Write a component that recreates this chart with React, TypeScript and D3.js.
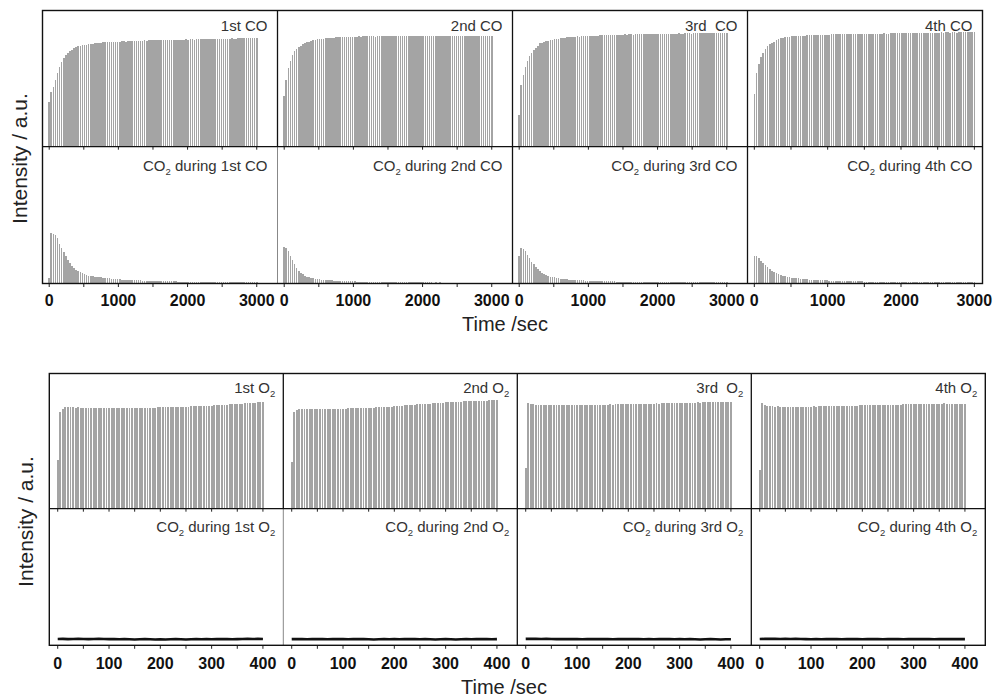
import React from 'react';
import * as d3 from 'd3';

// ---------- DATA ----------
const coStep = 30; // s between CO-phase samples
const o2Step = 5; // s between O2-phase samples
const co2O2Step = 10;

const coUpper1 = [
  0.33,0.40,0.44,0.49,0.54,0.585,0.62,0.65,0.67,0.688,
  0.70,0.712,0.722,0.732,0.737,0.741,0.744,0.746,0.748,0.752,
  0.755,0.757,0.76,0.762,0.764,0.763,0.766,0.768,0.767,0.768,
  0.77,0.769,0.771,0.772,0.77,0.773,0.774,0.772,0.775,0.776,
  0.777,0.775,0.778,0.777,0.779,0.778,0.78,0.779,0.781,0.78,
  0.782,0.781,0.783,0.782,0.784,0.783,0.785,0.784,0.786,0.785,
  0.784,0.786,0.787,0.786,0.785,0.787,0.788,0.787,0.789,0.788,
  0.787,0.789,0.79,0.789,0.788,0.79,0.791,0.79,0.792,0.791,
  0.79,0.792,0.793,0.792,0.791,0.793,0.794,0.793,0.795,0.794,
  0.793,0.795,0.796,0.795,0.797,0.796,0.795,0.797,0.798,0.797,
  0.797];
const coUpper2 = [
  0.37,0.49,0.575,0.63,0.675,0.70,0.718,0.73,0.742,0.752,
  0.76,0.767,0.772,0.778,0.782,0.785,0.788,0.79,0.792,0.794,
  0.796,0.797,0.799,0.8,0.801,0.802,0.803,0.804,0.805,0.804,
  0.806,0.807,0.806,0.808,0.809,0.808,0.81,0.809,0.81,0.811,
  0.81,0.811,0.812,0.81,0.809,0.811,0.812,0.811,0.813,0.812,
  0.81,0.812,0.813,0.811,0.812,0.814,0.813,0.811,0.812,0.813,
  0.812,0.81,0.811,0.813,0.812,0.811,0.813,0.814,0.812,0.811,
  0.813,0.812,0.81,0.812,0.813,0.811,0.812,0.814,0.813,0.812,
  0.811,0.813,0.812,0.814,0.815,0.813,0.812,0.814,0.815,0.816,
  0.814,0.813,0.815,0.816,0.814,0.815,0.816,0.815,0.814,0.815,
  0.814];
const coUpper3 = [
  0.233,0.45,0.53,0.585,0.63,0.665,0.69,0.71,0.725,0.74,
  0.76,0.765,0.77,0.775,0.779,0.783,0.787,0.79,0.792,0.794,
  0.797,0.799,0.801,0.803,0.804,0.806,0.807,0.808,0.81,0.809,
  0.811,0.812,0.811,0.813,0.814,0.813,0.815,0.816,0.815,0.817,
  0.818,0.817,0.819,0.82,0.819,0.821,0.82,0.822,0.821,0.823,
  0.822,0.824,0.823,0.825,0.824,0.823,0.825,0.826,0.825,0.827,
  0.826,0.825,0.827,0.828,0.827,0.826,0.828,0.829,0.828,0.827,
  0.829,0.83,0.829,0.828,0.83,0.831,0.83,0.832,0.831,0.83,
  0.832,0.833,0.832,0.831,0.833,0.834,0.833,0.835,0.834,0.833,
  0.835,0.836,0.835,0.834,0.836,0.837,0.836,0.838,0.837,0.836,
  0.838];
const coUpper4 = [
  0.39,0.54,0.61,0.655,0.69,0.72,0.742,0.755,0.765,0.772,
  0.785,0.79,0.795,0.8,0.803,0.806,0.809,0.811,0.812,0.813,
  0.814,0.815,0.816,0.815,0.817,0.818,0.817,0.819,0.818,0.82,
  0.821,0.82,0.822,0.823,0.822,0.824,0.825,0.824,0.826,0.825,
  0.826,0.827,0.826,0.828,0.827,0.826,0.828,0.829,0.828,0.827,
  0.829,0.83,0.829,0.828,0.83,0.831,0.83,0.829,0.831,0.832,
  0.831,0.83,0.832,0.833,0.832,0.834,0.833,0.832,0.834,0.835,
  0.834,0.833,0.835,0.836,0.835,0.834,0.836,0.837,0.836,0.835,
  0.837,0.838,0.837,0.836,0.838,0.839,0.838,0.84,0.839,0.838,
  0.84,0.839,0.838,0.84,0.841,0.84,0.839,0.841,0.842,0.84,
  0.84];

const co2DuringCo1 = [
  0.04,0.367,0.365,0.355,0.33,0.29,0.26,0.23,0.2,0.175,
  0.15,0.13,0.115,0.1,0.092,0.083,0.075,0.068,0.062,0.058,
  0.055,0.052,0.05,0.048,0.046,0.045,0.043,0.041,0.04,0.038,
  0.036,0.034,0.032,0.031,0.03,0.029,0.028,0.027,0.026,0.025,
  0.025,0.024,0.023,0.022,0.022,0.021,0.021,0.02,0.02,0.019,
  0.019,0.018,0.018,0.018,0.017,0.017,0.016,0.016,0.016,0.015,
  0.015,0.015,0.014,0.014,0.014,0.013,0.013,0.013,0.013,0.012,
  0.012,0.012,0.012,0.011,0.011,0.011,0.011,0.011,0.01,0.01,
  0.01,0.01,0.01,0.01,0.01,0.009,0.009,0.009,0.009,0.009,
  0.009,0.009,0.009,0.008,0.008,0.008,0.008,0.008,0.008,0.008,
  0.008];
const co2DuringCo2 = [
  0.265,0.26,0.235,0.2,0.17,0.14,0.115,0.095,0.08,0.068,
  0.058,0.05,0.045,0.041,0.038,0.035,0.032,0.03,0.028,0.026,
  0.025,0.024,0.023,0.022,0.021,0.02,0.019,0.019,0.018,0.017,
  0.017,0.016,0.016,0.015,0.015,0.014,0.014,0.014,0.013,0.013,
  0.013,0.012,0.012,0.012,0.012,0.011,0.011,0.011,0.011,0.01,
  0.01,0.011,0.01,0.01,0.01,0.009,0.01,0.009,0.009,0.009,
  0.009,0.009,0.008,0.009,0.008,0.008,0.009,0.008,0.008,0.008,
  0.008,0.008,0.007,0.008,0.007,0.008,0.007,0.007,0.007,0.007,
  0.007,0.007,0.007,0.006,0.007,0.007,0.006,0.007,0.006,0.006,
  0.006,0.006,0.007,0.006,0.006,0.006,0.006,0.006,0.006,0.006,
  0.006];
const co2DuringCo3 = [
  0.2,0.258,0.25,0.235,0.21,0.185,0.16,0.14,0.12,0.103,
  0.09,0.079,0.07,0.062,0.056,0.051,0.047,0.044,0.041,0.038,
  0.036,0.034,0.032,0.03,0.029,0.028,0.027,0.026,0.025,0.024,
  0.023,0.022,0.021,0.021,0.02,0.019,0.019,0.018,0.018,0.017,
  0.017,0.016,0.016,0.016,0.015,0.015,0.015,0.014,0.014,0.014,
  0.013,0.013,0.014,0.013,0.012,0.013,0.012,0.012,0.012,0.011,
  0.012,0.011,0.011,0.011,0.012,0.011,0.01,0.011,0.01,0.01,
  0.011,0.01,0.01,0.01,0.009,0.01,0.01,0.009,0.01,0.009,
  0.009,0.01,0.009,0.009,0.009,0.008,0.009,0.009,0.008,0.009,
  0.008,0.009,0.008,0.008,0.009,0.008,0.008,0.008,0.008,0.008,
  0.008];
const co2DuringCo4 = [
  0.2,0.198,0.185,0.167,0.15,0.133,0.118,0.105,0.094,0.083,
  0.074,0.067,0.061,0.056,0.052,0.048,0.045,0.043,0.041,0.039,
  0.037,0.035,0.033,0.032,0.03,0.029,0.028,0.027,0.026,0.025,
  0.024,0.023,0.022,0.022,0.021,0.02,0.02,0.019,0.019,0.018,
  0.018,0.017,0.017,0.017,0.016,0.016,0.016,0.015,0.015,0.015,
  0.014,0.014,0.014,0.014,0.013,0.013,0.013,0.013,0.012,0.012,
  0.012,0.012,0.012,0.011,0.011,0.011,0.011,0.011,0.011,0.01,
  0.01,0.01,0.011,0.01,0.01,0.01,0.009,0.01,0.01,0.009,
  0.009,0.009,0.01,0.009,0.009,0.009,0.009,0.008,0.009,0.009,
  0.008,0.009,0.008,0.008,0.008,0.009,0.008,0.008,0.008,0.008,
  0.008];

const o2Upper1 = [
  0.44,0.87,0.895,0.91,0.912,0.911,0.91,0.909,0.91,0.908,
  0.907,0.908,0.906,0.907,0.905,0.906,0.905,0.904,0.905,0.903,
  0.904,0.905,0.903,0.904,0.902,0.903,0.904,0.902,0.903,0.901,
  0.902,0.903,0.904,0.906,0.905,0.907,0.908,0.907,0.909,0.91,
  0.912,0.911,0.913,0.912,0.914,0.913,0.915,0.916,0.915,0.917,
  0.918,0.917,0.919,0.92,0.921,0.92,0.922,0.924,0.923,0.925,
  0.927,0.928,0.93,0.931,0.933,0.934,0.936,0.937,0.939,0.94,
  0.942,0.943,0.945,0.946,0.948,0.95,0.952,0.953,0.955,0.958,
  0.96];
const o2Upper2 = [
  0.42,0.87,0.89,0.894,0.895,0.894,0.896,0.895,0.897,0.896,
  0.897,0.896,0.898,0.897,0.896,0.898,0.899,0.898,0.897,0.899,
  0.9,0.899,0.901,0.902,0.901,0.903,0.904,0.903,0.905,0.906,
  0.907,0.906,0.908,0.91,0.911,0.912,0.914,0.915,0.917,0.918,
  0.92,0.922,0.925,0.927,0.929,0.93,0.932,0.934,0.935,0.937,
  0.938,0.94,0.942,0.943,0.945,0.946,0.948,0.95,0.951,0.953,
  0.955,0.957,0.958,0.96,0.961,0.962,0.963,0.964,0.965,0.966,
  0.967,0.968,0.969,0.97,0.97,0.971,0.972,0.973,0.973,0.974,
  0.975];
const o2Upper3 = [
  0.37,0.953,0.945,0.938,0.933,0.932,0.931,0.932,0.93,0.931,
  0.93,0.931,0.932,0.93,0.931,0.929,0.93,0.931,0.932,0.93,
  0.931,0.932,0.933,0.931,0.932,0.934,0.933,0.932,0.934,0.935,
  0.934,0.936,0.935,0.937,0.936,0.938,0.937,0.939,0.938,0.94,
  0.939,0.941,0.94,0.942,0.941,0.943,0.942,0.944,0.943,0.945,
  0.944,0.946,0.945,0.947,0.946,0.948,0.947,0.949,0.948,0.95,
  0.951,0.95,0.952,0.953,0.952,0.954,0.953,0.955,0.954,0.956,
  0.955,0.957,0.958,0.957,0.959,0.958,0.96,0.959,0.961,0.96,
  0.96];
const o2Upper4 = [
  0.35,0.953,0.93,0.922,0.92,0.919,0.918,0.919,0.917,0.918,
  0.917,0.918,0.916,0.917,0.918,0.917,0.916,0.918,0.917,0.916,
  0.918,0.919,0.918,0.92,0.919,0.921,0.92,0.922,0.921,0.923,
  0.922,0.924,0.923,0.925,0.924,0.926,0.925,0.927,0.926,0.928,
  0.929,0.928,0.93,0.929,0.931,0.93,0.932,0.931,0.933,0.932,
  0.934,0.933,0.935,0.934,0.936,0.935,0.937,0.938,0.937,0.939,
  0.938,0.94,0.939,0.941,0.94,0.942,0.941,0.943,0.944,0.943,
  0.945,0.944,0.946,0.945,0.944,0.943,0.945,0.944,0.942,0.941,
  0.94];

const co2DuringO21 = [
  0.046,0.047,0.045,0.046,0.047,0.046,0.045,0.046,0.047,0.046,
  0.045,0.046,0.044,0.045,0.044,0.043,0.044,0.045,0.044,0.043,
  0.044,0.043,0.044,0.045,0.044,0.043,0.044,0.045,0.044,0.045,
  0.044,0.045,0.046,0.045,0.044,0.045,0.046,0.047,0.046,0.047,
  0.046];
const co2DuringO22 = [
  0.045,0.046,0.045,0.044,0.045,0.046,0.045,0.044,0.045,0.046,
  0.045,0.044,0.045,0.046,0.045,0.044,0.043,0.044,0.045,0.044,
  0.045,0.044,0.045,0.046,0.045,0.044,0.045,0.044,0.043,0.044,
  0.045,0.044,0.043,0.044,0.045,0.044,0.045,0.046,0.045,0.044,
  0.045];
const co2DuringO23 = [
  0.047,0.048,0.047,0.046,0.047,0.046,0.045,0.046,0.045,0.046,
  0.045,0.044,0.045,0.046,0.045,0.046,0.045,0.044,0.045,0.046,
  0.045,0.046,0.045,0.044,0.045,0.044,0.045,0.046,0.045,0.044,
  0.045,0.044,0.045,0.044,0.043,0.044,0.045,0.044,0.043,0.044,
  0.044];
const co2DuringO24 = [
  0.046,0.047,0.048,0.047,0.046,0.047,0.046,0.047,0.046,0.045,
  0.044,0.045,0.044,0.045,0.046,0.045,0.044,0.045,0.046,0.045,
  0.044,0.045,0.046,0.045,0.044,0.045,0.046,0.045,0.044,0.045,
  0.046,0.045,0.046,0.045,0.044,0.045,0.046,0.045,0.046,0.045,
  0.045];

const coUpperSeries = [coUpper1, coUpper2, coUpper3, coUpper4];
const co2CoSeries = [co2DuringCo1, co2DuringCo2, co2DuringCo3, co2DuringCo4];
const o2UpperSeries = [o2Upper1, o2Upper2, o2Upper3, o2Upper4];
const co2O2Series = [co2DuringO21, co2DuringO22, co2DuringO23, co2DuringO24];

const ordinals = ['1st', '2nd', '3rd', '4th'];
const coUpperLabels = ['1st CO', '2nd CO', '3rd  CO', '4th CO'];
const o2UpperLabels = ['1st O', '2nd O', '3rd  O', '4th O'];
const coTickLabels = [0, 1000, 2000, 3000];
const coMinorTicks = [0, 500, 1000, 1500, 2000, 2500, 3000];
const o2TickLabels = [0, 100, 200, 300, 400];
const o2MinorTicks = [0, 50, 100, 150, 200, 250, 300, 350, 400];
const coXDomains: [number, number][] = [[-97, 3300], [-97, 3300], [-97, 3300], [-93, 3111]];
const o2XDomain: [number, number] = [-16.4, 439.7];
const o2UpperYDomain: [number, number] = [0, 1.215];

// ---------- LAYOUT ----------
const TOP = { x0: 42.5, pw: 235, yTop: 10.5, yMid: 146.7, yBot: 283.5 };
const BOT = { x0: 49.3, pw: 234, yTop: 373.5, yMid: 508.7, yBot: 645.3 };
const BAR = '#a4a4a4';
const FONT = 'Arial, "Liberation Sans", Helvetica, sans-serif';

function Bars({ values, step, x, y, width }: any) {
  return (
    <g stroke={BAR} strokeWidth={width} shapeRendering="crispEdges">
      {values.map((v: number, i: number) => (
        <line key={i} x1={x(i * step)} x2={x(i * step)} y1={y(0)} y2={y(v)} />
      ))}
    </g>
  );
}

function Sub2() {
  return <tspan fontSize={9.5} dy={4}>2</tspan>;
}

export default function App() {
  const topPanels = [0, 1, 2, 3].map((p) => {
    const left = TOP.x0 + p * TOP.pw;
    const x = d3.scaleLinear().domain(coXDomains[p]).range([left, left + TOP.pw]);
    const yU = d3.scaleLinear().domain([0, 1]).range([TOP.yMid, TOP.yTop]);
    const yL = d3.scaleLinear().domain([0, 1]).range([TOP.yBot, TOP.yMid]);
    return { p, left, right: left + TOP.pw, x, yU, yL };
  });
  const botPanels = [0, 1, 2, 3].map((p) => {
    const left = BOT.x0 + p * BOT.pw;
    const x = d3.scaleLinear().domain(o2XDomain).range([left, left + BOT.pw]);
    const yU = d3.scaleLinear().domain(o2UpperYDomain).range([BOT.yMid, BOT.yTop]);
    const yL = d3.scaleLinear().domain([0, 1]).range([BOT.yBot, BOT.yMid]);
    return { p, left, right: left + BOT.pw, x, yU, yL };
  });
  const line = d3.line<number>();

  return (
    <svg width={994} height={697} style={{ position: 'absolute', left: 0, top: 0, background: '#fff' }} fontFamily={FONT}>
      <rect x={0} y={0} width={994} height={697} fill="#fff" />
      {/* ===== TOP FIGURE ===== */}
      {topPanels.map(({ p, left, right, x, yU, yL }) => (
        <g key={'t' + p}>
          <Bars values={coUpperSeries[p]} step={coStep} x={x} y={yU} width={1.6} />
          <Bars values={co2CoSeries[p]} step={coStep} x={x} y={yL} width={1.6} />
          {coMinorTicks.map((t) => (
            <g key={t} stroke="#222" strokeWidth={1}>
              <line x1={x(t)} x2={x(t)} y1={TOP.yMid} y2={TOP.yMid + 3} />
              <line x1={x(t)} x2={x(t)} y1={TOP.yBot} y2={TOP.yBot + 3.5} />
            </g>
          ))}
          {coTickLabels.map((t) => (
            <text key={t} x={x(t)} y={305.5} textAnchor="middle" fontSize={16} fontWeight="bold" fill="#111">
              {t}
            </text>
          ))}
          <text x={right - 10} y={30.5} textAnchor="end" fontSize={15} fill="#333" style={{ whiteSpace: 'pre' }}>
            {coUpperLabels[p]}
          </text>
          <text x={right - 10} y={170.5} textAnchor="end" fontSize={15} fill="#333" style={{ whiteSpace: 'pre' }}>
            CO<Sub2 /><tspan dy={-4}>{` during ${ordinals[p]} CO`}</tspan>
          </text>
          {p > 0 && (
            <g>
              <line x1={left} x2={left} y1={TOP.yTop} y2={TOP.yMid} stroke="#111" strokeWidth={1.3} />
              <line x1={left} x2={left} y1={TOP.yMid} y2={TOP.yBot} stroke={p === 1 ? '#888' : '#111'} strokeWidth={p === 1 ? 1 : 1.3} />
            </g>
          )}
        </g>
      ))}
      <line x1={TOP.x0} x2={TOP.x0 + 4 * TOP.pw} y1={TOP.yMid} y2={TOP.yMid} stroke="#111" strokeWidth={1.3} />
      <rect x={TOP.x0} y={TOP.yTop} width={4 * TOP.pw} height={TOP.yBot - TOP.yTop} fill="none" stroke="#111" strokeWidth={1.4} />
      <text x={505} y={331} textAnchor="middle" fontSize={20} fill="#222">Time /sec</text>
      <text transform="translate(27,158.5) rotate(-90)" textAnchor="middle" fontSize={21} fill="#222">Intensity / a.u.</text>

      {/* ===== BOTTOM FIGURE ===== */}
      {botPanels.map(({ p, left, right, x, yU, yL }) => (
        <g key={'b' + p}>
          <Bars values={o2UpperSeries[p]} step={o2Step} x={x} y={yU} width={1.9} />
          <path
            d={line(co2O2Series[p].map((v, i) => [x(i * co2O2Step), yL(v)]) as any) || ''}
            fill="none"
            stroke="#111"
            strokeWidth={2.6}
          />
          {o2MinorTicks.map((t) => (
            <g key={t} stroke="#222" strokeWidth={1}>
              <line x1={x(t)} x2={x(t)} y1={BOT.yMid} y2={BOT.yMid + 3} />
              <line x1={x(t)} x2={x(t)} y1={BOT.yBot} y2={BOT.yBot + 3.5} />
            </g>
          ))}
          {o2TickLabels.map((t) => (
            <text key={t} x={x(t)} y={669} textAnchor="middle" fontSize={16} fontWeight="bold" fill="#111">
              {t}
            </text>
          ))}
          <text x={right - 8} y={393} textAnchor="end" fontSize={15} fill="#333" style={{ whiteSpace: 'pre' }}>
            {o2UpperLabels[p]}<Sub2 />
          </text>
          <text x={right - 8} y={532} textAnchor="end" fontSize={15} fill="#333" style={{ whiteSpace: 'pre' }}>
            CO<Sub2 /><tspan dy={-4}>{` during ${ordinals[p]} O`}</tspan><Sub2 />
          </text>
          {p > 0 && (
            <g>
              <line x1={left} x2={left} y1={BOT.yTop} y2={BOT.yMid} stroke="#111" strokeWidth={1.3} />
              <line x1={left} x2={left} y1={BOT.yMid} y2={BOT.yBot} stroke={p === 1 ? '#888' : '#111'} strokeWidth={p === 1 ? 1 : 1.3} />
            </g>
          )}
        </g>
      ))}
      <line x1={BOT.x0} x2={BOT.x0 + 4 * BOT.pw} y1={BOT.yMid} y2={BOT.yMid} stroke="#111" strokeWidth={1.3} />
      <rect x={BOT.x0} y={BOT.yTop} width={4 * BOT.pw} height={BOT.yBot - BOT.yTop} fill="none" stroke="#111" strokeWidth={1.4} />
      <text x={504} y={693.5} textAnchor="middle" fontSize={20} fill="#222">Time /sec</text>
      <text transform="translate(33,521.5) rotate(-90)" textAnchor="middle" fontSize={21} fill="#222">Intensity / a.u.</text>
    </svg>
  );
}
